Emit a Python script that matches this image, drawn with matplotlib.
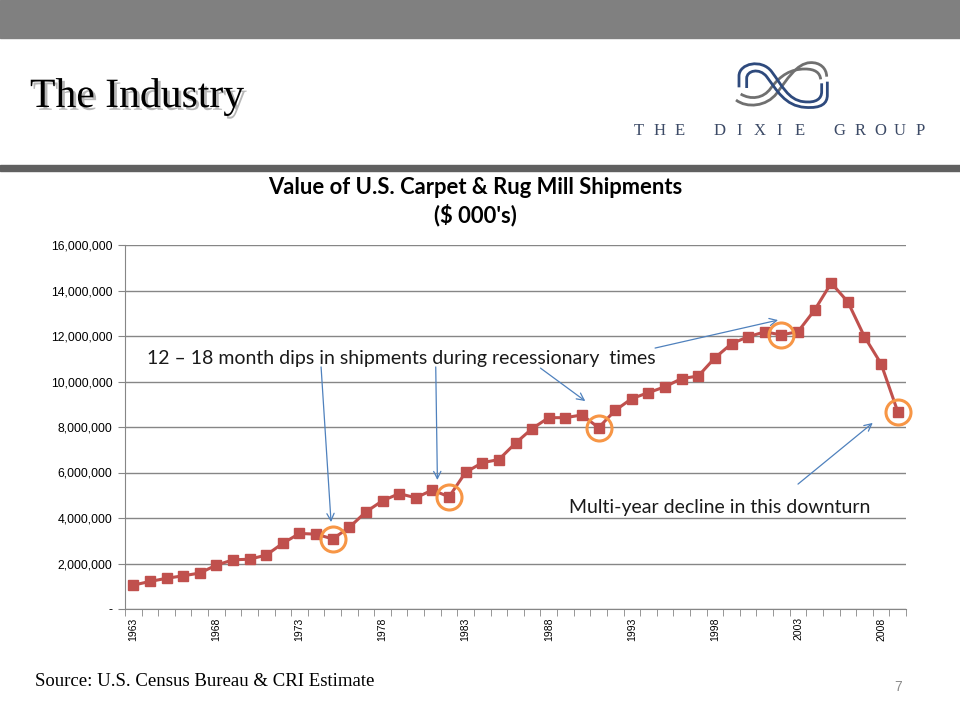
import matplotlib as mpl
mpl.use('Agg')
import matplotlib.pyplot as plt
import matplotlib.patheffects as pe
from matplotlib.path import Path
from matplotlib.patches import PathPatch, Rectangle
from matplotlib.ticker import FuncFormatter, MultipleLocator
import numpy as np

# value of shipments, $000's
years = list(range(1963, 2010))
values = [1050000, 1210000, 1350000, 1460000, 1580000, 1930000, 2160000, 2190000,
          2370000, 2890000, 3320000, 3290000, 3080000, 3590000, 4270000, 4760000,
          5070000, 4890000, 5230000, 4930000, 6010000, 6430000, 6570000, 7290000,
          7930000, 8410000, 8410000, 8530000, 7970000, 8730000, 9250000, 9510000,
          9770000, 10130000, 10240000, 11040000, 11660000, 11970000, 12180000,
          12050000, 12190000, 13140000, 14330000, 13500000, 11970000, 10780000,
          8680000]
dip_years = [1975, 1982, 1991, 2002, 2009]
label_years = [1963, 1968, 1973, 1978, 1983, 1988, 1993, 1998, 2003, 2008]

line_col = '#C0504D'
ring_col = '#F79646'
arrow_col = '#4F81BD'
grid_col = '#868686'

fig = plt.figure(figsize=(9.6, 7.2), dpi=100)

# slide header
fig.patches.append(Rectangle((0, 1 - 38/720), 1, 38/720, transform=fig.transFigure,
                             color='#808080', zorder=0))
fig.patches.append(Rectangle((0, 1 - 171/720), 1, 6/720, transform=fig.transFigure,
                             color='#606060', zorder=0))
fig.text(30/960, 1 - 107/720, 'The Industry', family='Liberation Serif', fontsize=30,
         color='black', ha='left', va='baseline',
         path_effects=[pe.SimplePatchShadow(offset=(2, -2), shadow_rgbFace='#888888', alpha=0.6),
                       pe.Normal()])

# logo, drawn in a small axes (units = 1/3 px)
lax = fig.add_axes([720/960, 1 - 125/720, 130/960, 75/720])
lax.set_xlim(0, 390)
lax.set_ylim(225, 0)
lax.axis('off')
M, L, C4 = Path.MOVETO, Path.LINETO, Path.CURVE4
strands = [
    ('#707070', [(48, 150), (80, 175), (140, 170), (170, 130), (200, 90), (230, 40),
                 (270, 38), (300, 36), (320, 55), (320, 80)],
     [M] + [C4] * 9),
    ('#707070', [(62, 132), (92, 150), (130, 146), (152, 115), (182, 75), (212, 57),
                 (255, 57), (285, 57), (300, 68), (302, 88)],
     [M] + [C4] * 9),
    ('#2E4A7D', [(57, 112), (57, 78), (57, 40), (125, 25), (155, 65), (185, 105),
                 (205, 150), (250, 155), (290, 160), (305, 145), (305, 125), (305, 100)],
     [M, L] + [C4] * 9 + [L]),
    ('#2E4A7D', [(80, 114), (80, 85), (80, 62), (118, 52), (140, 80), (170, 120),
                 (195, 168), (255, 172), (305, 176), (322, 160), (322, 135), (322, 95)],
     [M, L] + [C4] * 9 + [L]),
]
for col, v, codes in strands:
    lax.add_patch(PathPatch(Path(v, codes), fill=False, lw=2.0, color=col,
                            capstyle='butt'))

logo_txt = 'THE DIXIE GROUP'
xs = np.linspace(639, 920, len(logo_txt))
for ch, xp in zip(logo_txt, xs):
    fig.text(xp/960, 1 - 131/720, ch, family='Liberation Serif', fontsize=12,
             color='#3C4A66', ha='center', va='center')

# chart
ax = fig.add_axes([125/960, 1 - 609/720, 781/960, 364/720])
ax.plot(years, values, color=line_col, lw=2.2, marker='s', markersize=7.5,
        markerfacecolor=line_col, markeredgecolor=line_col, zorder=3)
dip_vals = [values[years.index(y)] for y in dip_years]
ax.plot(dip_years, dip_vals, ls='none', marker='o', markersize=18, markerfacecolor='none',
        markeredgecolor=ring_col, markeredgewidth=2.2, zorder=4, clip_on=False)

ax.set_xlim(years[0] - 0.5, years[-1] + 0.5)
ax.set_ylim(0, 16000000)
ax.yaxis.set_major_locator(MultipleLocator(2000000))
ax.yaxis.set_major_formatter(FuncFormatter(lambda v, p: '-' if v == 0 else f'{int(v):,}'))
ax.grid(axis='y', color=grid_col, lw=1)
ax.set_axisbelow(True)
ax.set_xticks(label_years)
ax.set_xticklabels([str(y) for y in label_years], rotation=90, family='Liberation Sans',
                   fontsize=7.5)
ax.set_xticks(np.arange(years[0] - 0.5, years[-1] + 1), minor=True)
ax.tick_params(axis='x', which='major', length=0, pad=6)
ax.tick_params(axis='x', which='minor', length=5, color=grid_col, direction='out')
ax.tick_params(axis='y', length=5, color=grid_col, pad=4, labelsize=8.8)
for lab in ax.get_yticklabels():
    lab.set_family('Liberation Sans')
for s in ['top', 'right']:
    ax.spines[s].set_visible(False)
for s in ['left', 'bottom']:
    ax.spines[s].set_color(grid_col)

fig.text(475/960, 1 - 187/720, "Value of U.S. Carpet & Rug Mill Shipments", family='Lato',
         weight='bold', fontsize=15.8, ha='center', va='center')
fig.text(475/960, 1 - 215/720, "($ 000's)", family='Lato', weight='bold', fontsize=15.8,
         ha='center', va='center')

ax.text(1963.8, 11030000, '12 \u2013 18 month dips in shipments during recessionary  times',
        family='Lato', fontsize=14, ha='left', va='center', color='#1a1a1a')
ax.text(1989.2, 4480000, 'Multi-year decline in this downturn', family='Lato', fontsize=14,
        ha='left', va='center', color='#1a1a1a')

arrow = dict(arrowstyle='->', color=arrow_col, lw=0.9, shrinkA=0, shrinkB=0,
             mutation_scale=13)
ax.annotate('', xy=(1974.9, 3820000), xytext=(1974.3, 10640000), arrowprops=arrow)
ax.annotate('', xy=(1981.3, 5670000), xytext=(1981.2, 10640000), arrowprops=arrow)
ax.annotate('', xy=(1990.2, 9140000), xytext=(1987.5, 10590000), arrowprops=arrow)
ax.annotate('', xy=(2001.8, 12700000), xytext=(1994.4, 11470000), arrowprops=arrow)
ax.annotate('', xy=(2007.5, 8180000), xytext=(2003.0, 5490000), arrowprops=arrow)

# footer
fig.text(35/960, 1 - 681/720, 'Source: U.S. Census Bureau & CRI Estimate',
         family='Liberation Serif', fontsize=13.5, ha='left', va='center')
fig.text(898/960, 1 - 687/720, '7', family='Liberation Sans', fontsize=10,
         color='#8C8C8C', ha='center', va='center')

plt.savefig('out.png', dpi=100)
plt.close()
